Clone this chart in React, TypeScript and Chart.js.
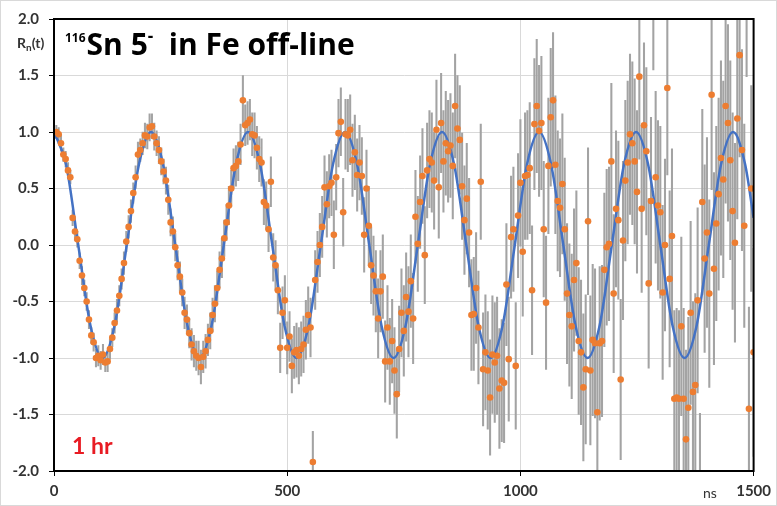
import React, { useEffect, useRef } from "react";
import { Chart, registerables } from "chart.js";

Chart.register(...registerables);

// Sample times (ns)
const times = [
  0, 5, 10, 15, 20, 25, 30, 35, 40, 45, 50, 55, 60, 65, 70, 75, 80, 85, 90, 95,
  100, 105, 110, 115, 120, 125, 130, 135, 140, 145, 150, 155, 160, 165, 170, 175, 180, 185, 190, 195,
  200, 205, 210, 215, 220, 225, 230, 235, 240, 245, 250, 255, 260, 265, 270, 275, 280, 285, 290, 295,
  300, 305, 310, 315, 320, 325, 330, 335, 340, 345, 350, 355, 360, 365, 370, 375, 380, 385, 390, 395,
  400, 405, 410, 415, 420, 425, 430, 435, 440, 445, 450, 455, 460, 465, 470, 475, 480, 485, 490, 495,
  500, 505, 510, 515, 520, 525, 530, 535, 540, 545, 550, 555, 560, 565, 570, 575, 580, 585, 590, 595,
  600, 605, 610, 615, 620, 625, 630, 635, 640, 645, 650, 655, 660, 665, 670, 675, 680, 685, 690, 695,
  700, 705, 710, 715, 720, 725, 730, 735, 740, 745, 750, 755, 760, 765, 770, 775, 780, 785, 790, 795,
  800, 805, 810, 815, 820, 825, 830, 835, 840, 845, 850, 855, 860, 865, 870, 875, 880, 885, 890, 895,
  900, 905, 910, 915, 920, 925, 930, 935, 940, 945, 950, 955, 960, 965, 970, 975, 980, 985, 990, 995,
  1000, 1005, 1010, 1015, 1020, 1025, 1030, 1035, 1040, 1045, 1050, 1055, 1060, 1065, 1070, 1075, 1080, 1085, 1090, 1095,
  1100, 1105, 1110, 1115, 1120, 1125, 1130, 1135, 1140, 1145, 1150, 1155, 1160, 1165, 1170, 1175, 1180, 1185, 1190, 1195,
  1200, 1205, 1210, 1215, 1220, 1225, 1230, 1235, 1240, 1245, 1250, 1255, 1260, 1265, 1270, 1275, 1280, 1285, 1290, 1295,
  1300, 1305, 1310, 1315, 1320, 1325, 1330, 1335, 1340, 1345, 1350, 1355, 1360, 1365, 1370, 1375, 1380, 1385, 1390, 1395,
  1400, 1405, 1410, 1415, 1420, 1425, 1430, 1435, 1440, 1445, 1450, 1455, 1460, 1465, 1470, 1475, 1480, 1485, 1490, 1495,
  1500,
];

// Measured R_n(t)
const rValues = [
  1.00, 1.00, 0.98, 0.90, 0.80, 0.76, 0.66, 0.60, 0.24, 0.12, 0.05, -0.14, -0.27, -0.38, -0.50, -0.66, -0.80, -0.86, -1.00, -0.98,
  -1.02, -0.97, -1.04, -1.03, -0.92, -0.82, -0.69, -0.58, -0.45, -0.30, -0.16, 0.03, 0.16, 0.30, 0.46, 0.60, 0.80, 0.84, 0.90, 0.97,
  0.96, 1.04, 1.05, 0.96, 0.90, 0.84, 0.74, 0.65, 0.57, 0.40, 0.20, 0.12, -0.02, -0.18, -0.28, -0.42, -0.60, -0.66, -0.78, -0.88,
  -0.94, -0.98, -1.00, -1.08, -0.99, -0.94, -0.84, -0.76, -0.62, -0.52, -0.38, -0.22, -0.12, 0.06, 0.20, 0.35, 0.50, 0.68, 0.70, 0.74,
  0.89, 1.28, 1.06, 1.08, 1.11, 0.98, 0.97, 0.86, 0.76, 0.73, 0.38, 0.35, 0.14, 0.56, -0.11, -0.18, -0.40, -0.91, -0.60, -0.49,
  -0.91, -0.81, -1.07, -0.95, -0.93, -0.98, -0.92, -0.88, -0.75, -0.62, -0.73, -1.92, -0.31, -0.15, 0.00, 0.16, 0.51, 0.36, 0.52, 0.55,
  0.09, 0.60, 0.99, 1.09, 0.29, 0.98, 0.97, 1.02, 0.75, 0.82, 0.62, 0.73, 0.61, 0.09, 0.50, 0.17, -0.18, -0.27, -0.41, -0.65,
  -0.41, -0.28, -1.03, -0.73, -1.03, -0.85, -1.11, -1.32, -0.92, -0.60, -0.76, -0.46, -0.59, -0.32, -0.65, 0.25, 0.01, 0.38, 0.61, -0.09,
  0.66, 0.76, 0.73, 0.57, 1.02, 0.51, 1.08, 0.74, 0.90, 0.83, 0.88, 0.70, 1.23, 1.03, 0.93, 0.52, 0.22, 0.41, 0.11, -0.62,
  -0.61, -0.38, -0.73, 0.56, -1.10, -0.95, -1.11, -1.35, -0.97, -1.04, -0.98, -1.27, -1.20, -1.22, -0.35, -1.01, 0.07, 0.14, -1.07, 0.26,
  0.55, -0.06, 0.61, 0.62, 0.68, -0.40, 1.07, 1.23, 1.01, 1.08, 0.14, -0.51, 0.70, 1.13, 1.28, 0.71, 0.39, 0.33, 0.54, 0.14,
  -0.43, -0.62, -0.72, -0.31, -0.16, -0.85, -0.95, -1.26, -1.10, 0.21, -1.11, -0.84, -0.87, -1.48, -0.87, -0.85, -0.22, -0.02, 0.01, 0.74,
  -0.43, 0.32, 0.22, -1.19, 0.04, 0.57, 0.73, 0.98, 0.90, 0.74, 0.47, 1.49, 0.32, 1.06, 0.83, -0.34, 0.39, 2.30, 0.60, 0.35,
  0.29, -0.42, 0.00, 1.39, -0.30, 0.08, -1.36, -1.35, -1.36, -0.72, -1.36, -1.72, -1.44, -0.60, -1.30, -1.24, -0.49, -2.30, 0.38, -0.12,
  0.11, -0.43, 1.33, -0.21, 0.19, 0.45, 0.77, 0.58, 1.23, 1.08, 0.75, 0.30, 0.02, 1.12, 1.68, 0.84, 0.17, 2.40, -1.45, 0.50,
  -0.95,
];

// Error bar half-lengths
const rErrors = [
  0.05, 0.06, 0.06, 0.07, 0.06, 0.07, 0.07, 0.06, 0.07, 0.08, 0.07, 0.07, 0.08, 0.07, 0.08, 0.08, 0.07, 0.08, 0.08, 0.09,
  0.08, 0.09, 0.08, 0.09, 0.09, 0.08, 0.09, 0.10, 0.09, 0.09, 0.10, 0.09, 0.10, 0.10, 0.09, 0.10, 0.11, 0.10, 0.10, 0.11,
  0.11, 0.12, 0.11, 0.12, 0.11, 0.12, 0.12, 0.11, 0.12, 0.13, 0.12, 0.13, 0.12, 0.13, 0.13, 0.12, 0.14, 0.13, 0.13, 0.14,
  0.14, 0.13, 0.15, 0.15, 0.14, 0.15, 0.14, 0.16, 0.15, 0.16, 0.15, 0.16, 0.17, 0.16, 0.16, 0.17, 0.16, 0.17, 0.18, 0.17,
  0.18, 0.22, 0.18, 0.19, 0.18, 0.19, 0.20, 0.19, 0.20, 0.21, 0.20, 0.21, 0.20, 0.22, 0.21, 0.22, 0.21, 0.22, 0.23, 0.22,
  0.23, 0.22, 0.24, 0.23, 0.24, 0.25, 0.24, 0.25, 0.26, 0.25, 0.26, 0.27, 0.26, 0.27, 0.28, 0.27, 0.28, 0.29, 0.28, 0.29,
  0.30, 0.29, 0.30, 0.30, 0.30, 0.31, 0.32, 0.31, 0.32, 0.33, 0.32, 0.33, 0.34, 0.33, 0.34, 0.35, 0.34, 0.35, 0.36, 0.35,
  0.36, 0.37, 0.36, 0.37, 0.38, 0.37, 0.38, 0.39, 0.38, 0.39, 0.40, 0.39, 0.40, 0.41, 0.40, 0.41, 0.42, 0.41, 0.42, 0.43,
  0.42, 0.43, 0.44, 0.43, 0.44, 0.45, 0.44, 0.45, 0.46, 0.45, 0.46, 0.47, 0.46, 0.47, 0.48, 0.47, 0.48, 0.49, 0.48, 0.49,
  0.50, 0.49, 0.50, 0.51, 0.50, 0.51, 0.52, 0.51, 0.52, 0.53, 0.52, 0.53, 0.54, 0.53, 0.54, 0.55, 0.54, 0.55, 0.56, 0.55,
  0.56, 0.57, 0.56, 0.57, 0.58, 0.57, 0.58, 0.59, 0.58, 0.59, 0.60, 0.59, 0.60, 0.61, 0.60, 0.61, 0.62, 0.61, 0.62, 0.63,
  0.62, 0.63, 0.64, 0.63, 0.64, 0.65, 0.64, 0.65, 0.66, 0.65, 0.66, 0.67, 0.66, 0.67, 0.68, 0.67, 0.68, 0.69, 0.68, 0.69,
  0.70, 0.69, 0.70, 0.71, 0.70, 0.71, 0.72, 0.71, 0.72, 0.73, 0.72, 0.73, 0.74, 0.73, 0.74, 0.75, 0.74, 0.75, 0.76, 0.75,
  0.76, 0.77, 0.76, 0.77, 0.78, 0.77, 0.78, 0.79, 0.78, 0.79, 0.80, 0.79, 0.80, 0.81, 0.80, 0.81, 0.82, 0.81, 0.82, 0.83,
  0.84, 0.83, 0.84, 0.85, 0.86, 0.85, 0.86, 0.87, 0.86, 0.87, 0.88, 0.87, 0.88, 0.89, 0.90, 0.89, 0.90, 0.91, 0.90, 0.91,
  0.92,
];

// Fitted curve, read at eighth-period points
const fitT = [
  0, 26, 52, 78, 104, 130, 156, 182, 208, 234, 260, 286, 312, 338, 364, 390, 416, 442, 468, 494,
  520, 546, 572, 598, 624, 650, 676, 702, 728, 754, 780, 806, 832, 858, 884, 910, 936, 962, 988, 1014,
  1040, 1066, 1092, 1118, 1144, 1170, 1196, 1222, 1248, 1274, 1300, 1326, 1352, 1378, 1404, 1430, 1456, 1482, 1500,
];
const fitY = [
  1, 0.71, 0, -0.71, -1, -0.71, 0, 0.71,
  1, 0.71, 0, -0.71, -1, -0.71, 0, 0.71,
  1, 0.71, 0, -0.71, -1, -0.71, 0, 0.71,
  1, 0.71, 0, -0.71, -1, -0.71, 0, 0.71,
  1, 0.71, 0, -0.71, -1, -0.71, 0, 0.71,
  1, 0.71, 0, -0.71, -1, -0.71, 0, 0.71,
  1, 0.71, 0, -0.71, -1, -0.71, 0, 0.71,
  1, 0.71, 0.24,
];

const xTicks = [0, 500, 1000, 1500];
const yTicks = [-2, -1.5, -1, -0.5, 0, 0.5, 1, 1.5, 2];

const FONT = "Lato, 'Open Sans', 'DejaVu Sans', sans-serif";
const TITLE_FONT = "'Open Sans', Lato, 'DejaVu Sans', sans-serif";

export default function App() {
  const ref = useRef<HTMLCanvasElement>(null);

  useEffect(() => {
    document.body.style.margin = "0";
    const canvas = ref.current;
    if (!canvas) return;

    const framePlugin = {
      id: "frame",
      afterDraw(c: any) {
        const { ctx, chartArea: a } = c;
        ctx.save();
        ctx.strokeStyle = "#000";
        ctx.lineWidth = 2;
        ctx.strokeRect(a.left, a.top, a.right - a.left, a.bottom - a.top);
        ctx.restore();
      },
    };

    const tickFont = { family: FONT, size: 15, weight: "bold" as const };

    const chart = new Chart(canvas, {
      type: "scatter",
      data: {
        datasets: [
          {
            type: "scatter",
            data: times.map((t, i) => ({ x: t, y: rValues[i] })),
            backgroundColor: "#ED7D31",
            borderWidth: 0,
            pointRadius: 3.3,
            pointHoverRadius: 3.3,
            order: 0,
          } as any,
          {
            type: "line",
            data: fitT.map((t, i) => ({ x: t, y: fitY[i] })),
            borderColor: "#4472C4",
            borderWidth: 2.5,
            pointRadius: 0,
            fill: false,
            cubicInterpolationMode: "monotone",
            order: 1,
            clip: 0,
          } as any,
          {
            type: "bar",
            data: times.map((t, i) => ({
              x: t,
              y: [rValues[i] - rErrors[i], rValues[i] + rErrors[i]],
            })),
            backgroundColor: "#A3A3A3",
            barThickness: 1.4,
            grouped: false,
            order: 2,
            clip: 0,
          } as any,
        ],
      },
      options: {
        animation: false,
        responsive: false,
        maintainAspectRatio: false,
        events: [],
        layout: { padding: { top: 15, right: 19, left: 0, bottom: 0 } },
        plugins: { legend: { display: false }, tooltip: { enabled: false } },
        scales: {
          x: {
            type: "linear",
            min: 0,
            max: 1500,
            offset: false,
            afterFit: (s: any) => {
              s.height = 35;
            },
            afterBuildTicks: (s: any) => {
              s.ticks = xTicks.map((v) => ({ value: v }));
            },
            ticks: {
              font: tickFont,
              color: "#333",
              padding: 6,
              maxRotation: 0,
              autoSkip: false,
              callback: (v: any) => String(v),
            },
            grid: {
              offset: false,
              color: "#d9d9d9",
              lineWidth: 1,
              tickColor: "#000",
              tickLength: 5,
            },
            border: { color: "#000", width: 2 },
          },
          y: {
            type: "linear",
            min: -2,
            max: 2,
            afterFit: (s: any) => {
              s.width = 54;
            },
            afterBuildTicks: (s: any) => {
              s.ticks = yTicks.map((v) => ({ value: v }));
            },
            ticks: {
              font: tickFont,
              color: "#333",
              padding: 10,
              autoSkip: false,
              callback: (v: any) => Number(v).toFixed(1),
            },
            grid: { color: "#d9d9d9", lineWidth: 1, tickColor: "#000", tickLength: 5 },
            border: { color: "#000", width: 2 },
          },
        },
      },
      plugins: [framePlugin],
    } as any);

    return () => chart.destroy();
  }, []);

  return (
    <div
      style={{
        position: "relative",
        width: 777,
        height: 506,
        background: "#fff",
        overflow: "hidden",
        fontFamily: FONT,
      }}
    >
      <canvas ref={ref} width={777} height={506} style={{ display: "block" }} />
      <div
        style={{
          position: "absolute",
          left: 0,
          top: 0,
          width: 777,
          height: 506,
          boxSizing: "border-box",
          border: "1px solid #d9d9d9",
          pointerEvents: "none",
        }}
      />
      <div
        style={{
          position: "absolute",
          left: 17,
          top: 36,
          fontSize: 14,
          fontWeight: 700,
          color: "#333",
          lineHeight: 1,
          whiteSpace: "nowrap",
        }}
      >
        R<span style={{ fontSize: 10, position: "relative", top: 3 }}>n</span>(t)
      </div>
      <div
        style={{
          position: "absolute",
          left: 65,
          top: 29,
          fontSize: 30,
          fontWeight: 700,
          fontFamily: TITLE_FONT,
          color: "#000",
          lineHeight: 1,
          whiteSpace: "nowrap",
        }}
      >
        <span style={{ fontSize: 12, position: "relative", top: -13, marginRight: 1 }}>116</span>
        Sn 5<span style={{ fontSize: 17, position: "relative", top: -13 }}>-</span>
        {"\u00a0 in Fe off-line"}
      </div>
      <div
        style={{
          position: "absolute",
          left: 72,
          top: 434,
          fontSize: 23,
          fontWeight: 700,
          color: "#E81B23",
          lineHeight: 1,
          whiteSpace: "nowrap",
        }}
      >
        1 hr
      </div>
      <div
        style={{
          position: "absolute",
          left: 703,
          top: 486,
          fontSize: 14,
          fontWeight: 400,
          color: "#333",
          lineHeight: 1,
          whiteSpace: "nowrap",
        }}
      >
        ns
      </div>
    </div>
  );
}
